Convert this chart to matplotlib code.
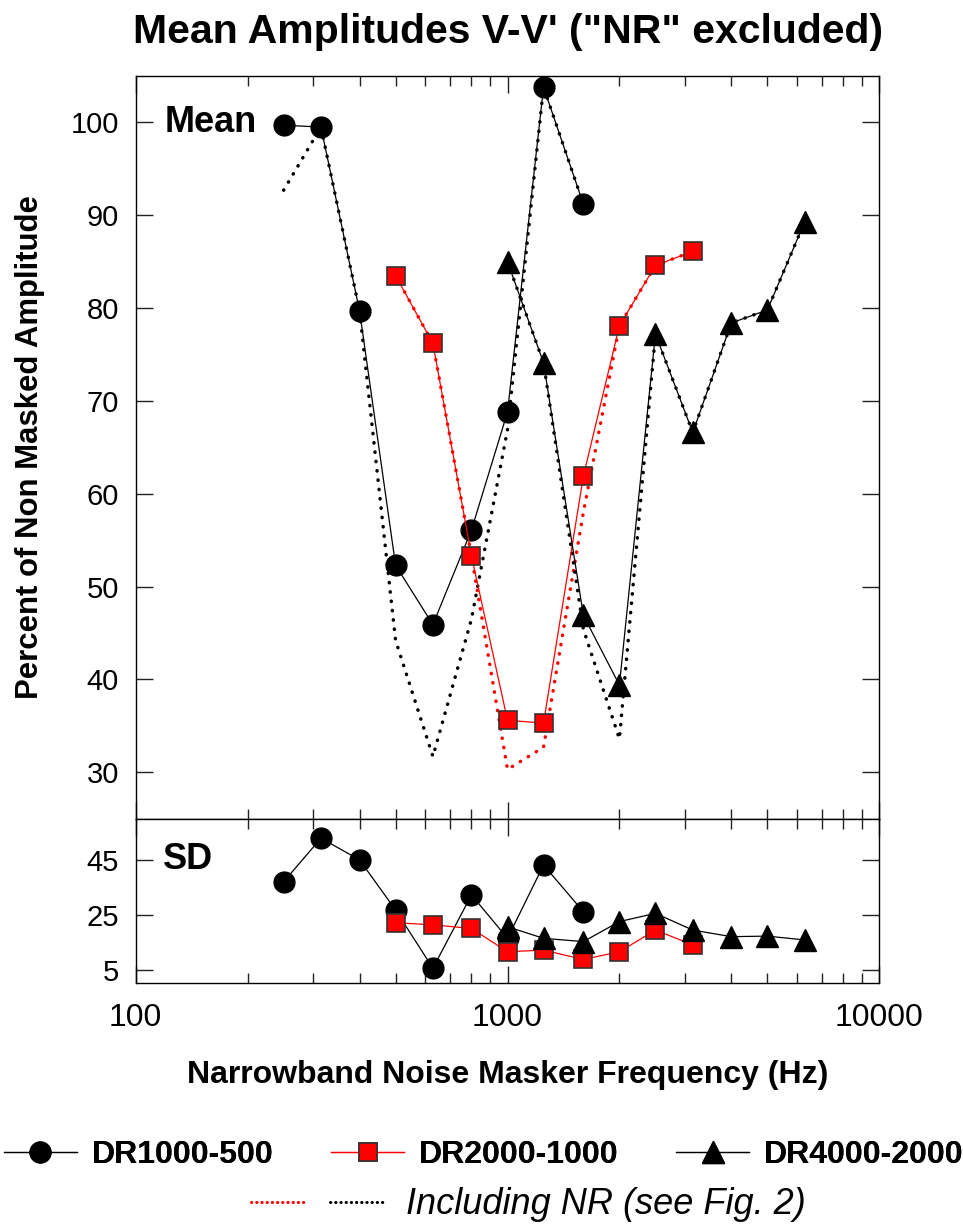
import numpy as np
import matplotlib
matplotlib.use("Agg")
import matplotlib.pyplot as plt
from matplotlib.lines import Line2D
from matplotlib.legend_handler import HandlerTuple
from matplotlib.ticker import LogLocator, NullFormatter, FixedLocator

plt.rcParams['font.family'] = ['Liberation Sans', 'DejaVu Sans']

# --- data ---
freq_dr1000 = [250, 315, 400, 500, 630, 800, 1000, 1250, 1600]
freq_dr2000 = [500, 630, 800, 1000, 1250, 1600, 2000, 2500, 3150]
freq_dr4000 = [1000, 1250, 1600, 2000, 2500, 3150, 4000, 5000, 6300]

# mean amplitude, "NR" excluded (solid)
mean_dr1000 = [99.7, 99.5, 79.7, 52.3, 45.9, 56.1, 68.8, 103.8, 91.2]
mean_dr2000 = [83.5, 76.2, 53.3, 35.6, 35.3, 61.9, 78.1, 84.6, 86.1]
mean_dr4000 = [85.0, 74.1, 46.9, 39.4, 77.2, 66.6, 78.4, 79.8, 89.3]

# mean amplitude including NR (dotted)
nr_dr1000 = [92.7, 99.5, 79.7, 44.2, 31.7, 46.5, 66.9, 103.8, 91.2]
nr_dr2000 = [83.5, 76.2, 53.3, 30.3, 32.7, 58.0, 78.1, 84.6, 86.1]
nr_dr4000 = [85.0, 74.1, 45.4, 33.6, 77.2, 66.6, 78.4, 79.8, 89.3]

# standard deviations
sd_dr1000 = [37.0, 52.9, 45.0, 26.7, 5.5, 32.2, 16.4, 43.1, 26.1]
sd_dr2000 = [22.1, 21.3, 20.0, 11.5, 12.1, 8.7, 11.5, 19.4, 14.0]
sd_dr4000 = [20.6, 16.4, 15.2, 22.5, 25.5, 19.4, 17.0, 17.2, 15.8]

mean_yticks = [30, 40, 50, 60, 70, 80, 90, 100]
sd_yticks = [5, 25, 45]

W, H = 963, 1228
fig = plt.figure(figsize=(W / 100, H / 100), dpi=100)

def px_axes(x0, y0, x1, y1):
    return fig.add_axes([x0 / W, 1 - y1 / H, (x1 - x0) / W, (y1 - y0) / H])

ax = px_axes(135.7, 76, 879.3, 818.7)
ax_sd = px_axes(135.7, 818.7, 879.3, 983.3)

dot = dict(linestyle=(0, (0.1, 2.6)), lw=2.5, dash_capstyle='round')
circ = dict(color='black', lw=0.9, marker='o', ms=15, mfc='black', mec='black')
sq = dict(color='red', lw=0.9, marker='s', ms=13, mfc='red', mec='#333333', mew=1.2)
tri = dict(color='black', lw=0.9, marker='^', ms=16, mfc='black', mec='black')

# dotted "including NR" curves under the solid series
ax.plot(freq_dr1000, nr_dr1000, color='black', zorder=2, **dot)
ax.plot(freq_dr2000, nr_dr2000, color='red', zorder=2, **dot)
ax.plot(freq_dr4000, nr_dr4000, color='black', zorder=2, **dot)

ax.plot(freq_dr1000, mean_dr1000, zorder=3, **circ)
ax.plot(freq_dr2000, mean_dr2000, zorder=4, **sq)
ax.plot(freq_dr4000, mean_dr4000, zorder=5, **tri)

ax_sd.plot(freq_dr1000, sd_dr1000, zorder=3, **circ)
ax_sd.plot(freq_dr2000, sd_dr2000, zorder=4, **sq)
ax_sd.plot(freq_dr4000, sd_dr4000, zorder=5, **tri)

for a in (ax, ax_sd):
    a.set_xscale('log')
    a.set_xlim(100, 10000)
    a.xaxis.set_major_locator(FixedLocator([100, 1000, 10000]))
    a.xaxis.set_minor_locator(LogLocator(base=10, subs=np.arange(2, 10)))
    a.xaxis.set_minor_formatter(NullFormatter())
    a.tick_params(which='both', direction='in', top=True, right=True,
                  width=1.0, color='#222222')
    a.tick_params(which='major', length=12)
    a.tick_params(which='minor', length=7)
    a.tick_params(axis='y', labelsize=21, pad=12)
    a.tick_params(axis='x', labelsize=23, pad=14)
    for s in a.spines.values():
        s.set_linewidth(1.0)

ax.set_ylim(25, 105)
ax.set_yticks(mean_yticks)
ax.tick_params(axis='x', labelbottom=False)

ax_sd.set_ylim(0, 60)
ax_sd.set_yticks(sd_yticks)
ax_sd.set_xticklabels(['100', '1000', '10000'])

ax.text(0.039, 0.938, 'Mean', transform=ax.transAxes, fontsize=26,
        fontweight='bold', va='center', ha='left')
ax_sd.text(0.036, 0.75, 'SD', transform=ax_sd.transAxes, fontsize=26,
           fontweight='bold', va='center', ha='left')

ax.set_ylabel('Percent of Non Masked Amplitude', fontsize=22.4, fontweight='bold')
ax.yaxis.label.set_va('center')
ax.yaxis.set_label_coords(-0.142, 0.5)

fig.text(507.5 / W, 1 - 32 / H, 'Mean Amplitudes V-V\' ("NR" excluded)',
         fontsize=29.5, fontweight='bold', ha='center', va='center')
fig.text(507.5 / W, 1 - 1075 / H, 'Narrowband Noise Masker Frequency (Hz)',
         fontsize=23, fontweight='bold', ha='center', va='center')

# legend
h1 = Line2D([], [], **circ)
h2 = Line2D([], [], **sq)
h3 = Line2D([], [], **tri)
leg1 = fig.legend([h1, h2, h3], ['DR1000-500', 'DR2000-1000', 'DR4000-2000'],
                  loc='center', bbox_to_anchor=(483.5 / W, 1 - 1155 / H),
                  ncol=3, frameon=False, handlelength=2.3, handletextpad=0.45,
                  columnspacing=1.8, prop=dict(size=23, weight='bold'))
fig.add_artist(leg1)

d_red = Line2D([], [], color='red', linestyle=(0, (0.1, 1.6)), lw=2.2,
               dash_capstyle='round')
d_blk = Line2D([], [], color='black', linestyle=(0, (0.1, 1.6)), lw=2.2,
               dash_capstyle='round')
fig.legend([(d_red, d_blk)], ['Including NR (see Fig. 2)'],
           handler_map={tuple: HandlerTuple(ndivide=None, pad=0.7)},
           loc='center', bbox_to_anchor=(528.5 / W, 1 - 1205 / H),
           frameon=False, handlelength=3.7, handletextpad=0.6,
           prop=dict(size=26, style='italic'))

fig.savefig('out.png', dpi=100)
